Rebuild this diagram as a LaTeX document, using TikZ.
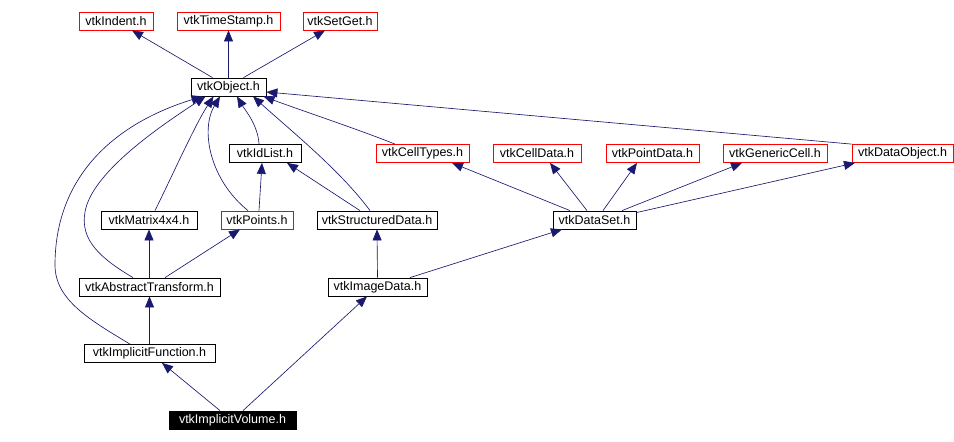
\documentclass[tikz,border=0pt]{standalone}
\usepackage{fontspec}
\setmainfont{Liberation Sans}
\usetikzlibrary{arrows.meta}
\definecolor{edgeblue}{HTML}{191970}
\tikzset{
  box/.style={draw, line width=0.8pt, inner sep=0pt, minimum height=18pt, font=\fontsize{12.5}{14}\selectfont, anchor=center, fill=white},
  redbox/.style={box, draw=red},
  blackbox/.style={box, draw=black},
  focusbox/.style={box, draw=black, fill=black, text=white},
  dep/.style={draw=edgeblue, line width=0.65pt, -{Triangle[length=11pt,width=9pt]}},
}
\begin{document}
\begin{tikzpicture}[x=1pt,y=-1pt]
\useasboundingbox (0,0) rectangle (954,442);
% nodes
\node[redbox, minimum width=74pt] (indent) at (116,21) {vtkIndent.h};
\node[redbox, minimum width=103pt] (ts) at (228.5,21) {vtkTimeStamp.h};
\node[redbox, minimum width=74pt] (setget) at (340,21) {vtkSetGet.h};
\node[blackbox, minimum width=75pt] (obj) at (228.5,87) {vtkObject.h};
\node[blackbox, minimum width=72pt] (idlist) at (265,153.5) {vtkIdList.h};
\node[redbox, minimum width=93pt] (celltypes) at (422.5,153.5) {vtkCellTypes.h};
\node[redbox, minimum width=88pt] (celldata) at (537,153.5) {vtkCellData.h};
\node[redbox, minimum width=93pt] (pointdata) at (652.5,153.5) {vtkPointData.h};
\node[redbox, minimum width=104pt] (generic) at (775,153.5) {vtkGenericCell.h};
\node[redbox, minimum width=101pt] (dataobj) at (902.5,153.5) {vtkDataObject.h};
\node[blackbox, minimum width=96pt] (matrix) at (149,220) {vtkMatrix4x4.h};
\node[redbox, minimum width=72pt] (points) at (257,220) {vtkPoints.h};
\node[blackbox, minimum width=120pt] (structured) at (377,220) {vtkStructuredData.h};
\node[blackbox, minimum width=83pt] (dataset) at (594.5,220) {vtkDataSet.h};
\node[blackbox, minimum width=141pt] (abstract) at (149.5,287) {vtkAbstractTransform.h};
\node[blackbox, minimum width=99pt] (image) at (377.5,287) {vtkImageData.h};
\node[blackbox, minimum width=131pt] (implicit) at (149.5,353.5) {vtkImplicitFunction.h};
\node[focusbox, minimum width=127pt] (volume) at (232.5,420) {vtkImplicitVolume.h};
% edges
\draw[dep] ([xshift=-16pt]obj.north) -- ([xshift=16pt]indent.south);
\draw[dep] (obj.north) -- (ts.south);
\draw[dep] ([xshift=15pt]obj.north) -- ([xshift=-15pt]setget.south);
\draw[dep] ([xshift=-6pt]idlist.north) .. controls (258,125) and (245,110) .. ([xshift=8.5pt]obj.south);
\draw[dep] ([xshift=-9pt]points.north) .. controls (210,180) and (200,130) .. ([xshift=-8.5pt]obj.south);
\draw[dep] ([xshift=6pt]matrix.north) .. controls (175,170) and (195,125) .. ([xshift=-15pt]obj.south);
\draw[dep] ([xshift=-16.5pt]abstract.north) .. controls (100,258) and (80,240) .. (85,212) .. controls (92,170) and (170,120) .. ([xshift=-23pt]obj.south);
\draw[dep] ([xshift=-19.5pt]implicit.north) .. controls (90,320) and (55,300) .. (55,265) .. controls (55,180) and (110,125) .. ([xshift=-26pt]obj.south);
\draw[dep] ([xshift=-7pt]structured.north) .. controls (340,170) and (290,130) .. ([xshift=24.5pt]obj.south);
\draw[dep] ([xshift=-27.5pt]celltypes.north) .. controls (360,130) and (300,110) .. ([xshift=35pt]obj.south);
\draw[dep] (dataobj.north west) -- ([yshift=-5pt]obj.east);
\draw[dep] ([xshift=2pt]points.north) -- ([xshift=-3pt]idlist.south);
\draw[dep] ([xshift=-17pt]structured.north) -- ([xshift=22pt]idlist.south);
\draw[dep] ([xshift=-24.5pt]dataset.north) -- ([xshift=29.5pt]celltypes.south);
\draw[dep] ([xshift=-7.5pt]dataset.north) -- ([xshift=13pt]celldata.south);
\draw[dep] ([xshift=8.5pt]dataset.north) -- ([xshift=-15.5pt]pointdata.south);
\draw[dep] ([xshift=27.5pt]dataset.north) -- ([xshift=-33pt]generic.south);
\draw[dep] ([yshift=-2pt]dataset.north east) -- ([xshift=-47.5pt]dataobj.south);
\draw[dep] ([xshift=-0.5pt]abstract.north) -- (matrix.south);
\draw[dep] ([xshift=15.5pt]abstract.north) -- ([xshift=-17pt]points.south);
\draw[dep] (image.north) -- (structured.south);
\draw[dep] ([xshift=32.5pt]image.north) -- ([xshift=-32.5pt]dataset.south);
\draw[dep] (implicit.north) -- (abstract.south);
\draw[dep] ([xshift=-12.5pt]volume.north) -- ([xshift=12.5pt]implicit.south);
\draw[dep] ([xshift=10.5pt]volume.north) -- ([xshift=-10.5pt]image.south);
\end{tikzpicture}
\end{document}
